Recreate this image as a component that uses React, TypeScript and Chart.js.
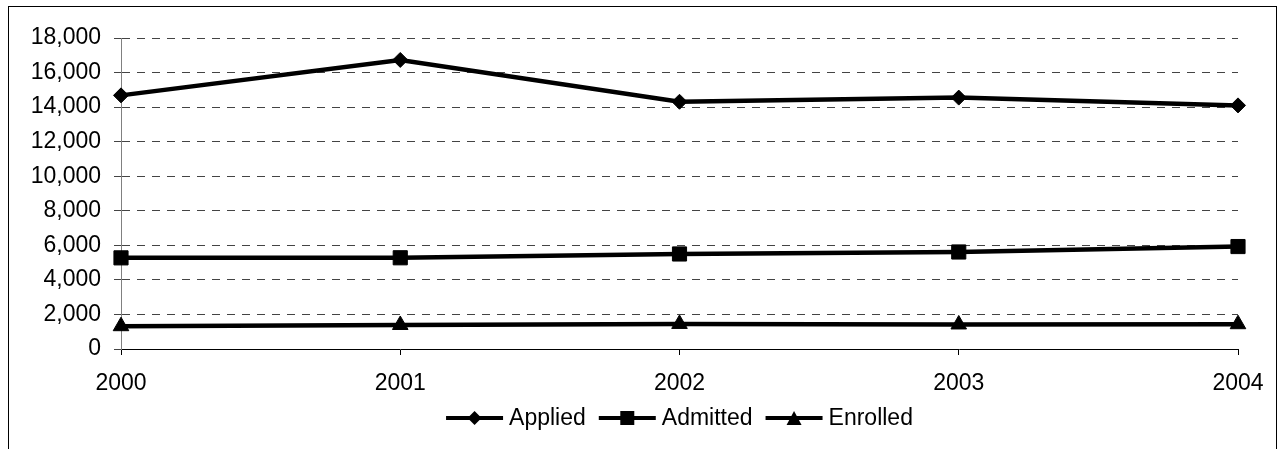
import React, { useEffect, useRef } from "react";
import { Chart, registerables } from "chart.js";

Chart.register(...registerables);

const years = ["2000", "2001", "2002", "2003", "2004"];
const applied = [14680, 16730, 14310, 14550, 14100];
const admitted = [5275, 5280, 5500, 5615, 5930];
const enrolled = [1320, 1390, 1450, 1420, 1435];
const yTicks = [0, 2000, 4000, 6000, 8000, 10000, 12000, 14000, 16000, 18000];
const seriesNames = ["Applied", "Admitted", "Enrolled"];

const FONT_FAMILY = '"Liberation Sans", Arial, Helvetica, sans-serif';
const FONT_SIZE = 23;

function drawMarker(ctx: CanvasRenderingContext2D, style: string, x: number, y: number) {
  ctx.beginPath();
  if (style === "rectRot") {
    const r = 7;
    ctx.moveTo(x, y - r);
    ctx.lineTo(x + r, y);
    ctx.lineTo(x, y + r);
    ctx.lineTo(x - r, y);
  } else if (style === "rect") {
    const h = 7;
    ctx.rect(x - h, y - h, 2 * h, 2 * h);
  } else {
    const w = 7.5, h = 7;
    ctx.moveTo(x, y - h);
    ctx.lineTo(x + w, y + h);
    ctx.lineTo(x - w, y + h);
  }
  ctx.closePath();
  ctx.fill();
}

const legendPlugin = {
  id: "excelLegend",
  afterDraw(chart: any) {
    const ctx: CanvasRenderingContext2D = chart.ctx;
    const area = chart.chartArea;
    ctx.save();
    ctx.font = `${FONT_SIZE}px ${FONT_FAMILY}`;
    const lineLen = 57;
    const gapText = 6;
    const gapItem = 13;
    const items = chart.data.datasets.map((ds: any) => ({
      ds,
      tw: ctx.measureText(ds.label).width,
    }));
    const total =
      items.reduce((s: number, it: any) => s + lineLen + gapText + it.tw, 0) +
      gapItem * (items.length - 1);
    let x = (area.left + area.right) / 2 - total / 2;
    const y = chart.height - 31;
    for (const it of items) {
      ctx.strokeStyle = "#000";
      ctx.fillStyle = "#000";
      ctx.lineWidth = 4;
      ctx.beginPath();
      ctx.moveTo(x, y);
      ctx.lineTo(x + lineLen, y);
      ctx.stroke();
      drawMarker(ctx, it.ds.pointStyle, x + lineLen / 2, y);
      ctx.textAlign = "left";
      ctx.textBaseline = "middle";
      ctx.fillText(it.ds.label, x + lineLen + gapText, y + 1);
      x += lineLen + gapText + it.tw + gapItem;
    }
    ctx.restore();
  },
};

export default function App() {
  const ref = useRef<HTMLCanvasElement | null>(null);

  useEffect(() => {
    if (!ref.current) return;
    Chart.defaults.font.family = FONT_FAMILY;
    Chart.defaults.color = "#000";
    const chart = new Chart(ref.current, {
      type: "line",
      data: {
        labels: years,
        datasets: [
          {
            label: seriesNames[0],
            data: applied,
            borderColor: "#000",
            backgroundColor: "#000",
            borderWidth: 4.5,
            pointStyle: "rectRot",
            pointRadius: 7.5,
            pointBorderWidth: 1,
            tension: 0,
          },
          {
            label: seriesNames[1],
            data: admitted,
            borderColor: "#000",
            backgroundColor: "#000",
            borderWidth: 4.5,
            pointStyle: "rect",
            pointRadius: 10,
            pointBorderWidth: 1,
            tension: 0,
          },
          {
            label: seriesNames[2],
            data: enrolled,
            borderColor: "#000",
            backgroundColor: "#000",
            borderWidth: 4.5,
            pointStyle: "triangle",
            pointRadius: 9,
            pointBorderWidth: 1,
            tension: 0,
          },
        ],
      },
      options: {
        responsive: false,
        animation: false,
        layout: { padding: { left: 0, right: 46, top: 38, bottom: 55 } },
        plugins: {
          legend: { display: false },
          tooltip: { enabled: false },
          title: { display: false },
        },
        scales: {
          x: {
            type: "category",
            offset: false,
            grid: {
              drawOnChartArea: false,
              drawTicks: true,
              tickLength: 6,
              tickColor: "#000",
              color: "#000",
            },
            border: { display: true, color: "#000", width: 1 },
            ticks: {
              font: { size: FONT_SIZE },
              color: "#000",
              padding: 15,
              maxRotation: 0,
              autoSkip: false,
            },
            afterFit: (scale: any) => {
              scale.height = 45;
            },
          },
          y: {
            min: 0,
            max: 18000,
            afterBuildTicks: (scale: any) => {
              scale.ticks = yTicks.map((v) => ({ value: v }));
            },
            grid: {
              color: "#444",
              lineWidth: 1,
              drawTicks: true,
              tickLength: 7,
              tickColor: "#444",
            },
            border: { display: true, color: "#808080", width: 1, dash: [8, 7] },
            ticks: {
              font: { size: FONT_SIZE },
              color: "#000",
              padding: 13,
              callback: (v: any) => Number(v).toLocaleString("en-US"),
            },
            afterFit: (scale: any) => {
              scale.width = 121;
            },
          },
        },
      },
      plugins: [legendPlugin],
    });
    return () => chart.destroy();
  }, []);

  return (
    <div style={{ position: "fixed", left: 0, top: 0, width: 1284, height: 449, background: "#fff" }}>
      <div
        style={{
          position: "absolute",
          left: 8,
          top: 6,
          width: 1269,
          height: 443,
          boxSizing: "border-box",
          borderTop: "1px solid #000",
          borderLeft: "1px solid #000",
          borderRight: "1px solid #000",
        }}
      />
      <canvas
        ref={ref}
        width={1284}
        height={449}
        style={{ position: "absolute", left: 0, top: 0, width: 1284, height: 449 }}
      />
    </div>
  );
}
